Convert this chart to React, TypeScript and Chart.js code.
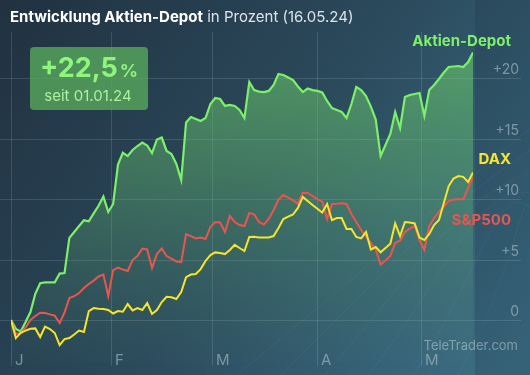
import React, { useEffect, useRef } from "react";
import { Chart, registerables } from "chart.js";

Chart.register(...registerables);

// Trading-day index 0..95 (02.01.24 – 16.05.24), performance in %
const depotValues = [
  0, -0.73, -0.94, -0.17, 0.66, 2.17, 3.04, 3.11, 3.11, 3.11,
  3.84, 3.88, 6.79, 7.28, 7.77, 8.24, 8.16, 8.81, 9.44, 10.2,
  8.93, 9.59, 12.85, 13.82, 13.55, 14.05, 14.38, 14.67, 14.42, 13.8,
  14.92, 15.08, 13.97, 13.72, 12.9, 11.57, 16.32, 16.78, 16.61, 16.45,
  16.69, 17.85, 18.35, 18.26, 17.69, 17.77, 17.69, 17.36, 16.69, 19.67,
  19.0, 18.88, 18.84, 18.93, 19.42, 20.33, 20.25, 20.04, 19.83, 19.3,
  18.84, 19.13, 19.0, 18.93, 18.8, 18.1, 17.52, 17.36, 17.19, 16.69,
  17.85, 19.26, 19.0, 18.51, 17.64, 16.57, 13.55, 14.46, 15.37, 17.19,
  15.87, 18.43, 18.6, 18.68, 18.76, 16.86, 19.0, 19.42, 19.92, 20.45,
  20.91, 20.95, 20.99, 20.91, 21.32, 22.1,
];
const sp500Values = [
  0, -1.16, -1.07, -0.62, 0, 0.33, 0.6, 0.58, 0.47, 0.36,
  -0.25, 0.62, 1.82, 1.98, 2.23, 2.64, 2.98, 3.26, 3.6, 3.76,
  1.98, 4.13, 4.34, 4.17, 4.05, 4.96, 5.29, 5.9, 5.83, 4.3,
  5.45, 5.91, 5.29, 5.08, 4.83, 4.79, 7.1, 6.94, 6.74, 6.82,
  6.69, 7.69, 8.1, 8.06, 7.27, 8.6, 8.1, 7.85, 7.77, 8.84,
  8.74, 8.1, 7.89, 8.35, 9.09, 9.96, 10.33, 10.12, 9.88, 9.61,
  10.52, 10.5, 10.25, 10.0, 9.78, 8.35, 9.59, 9.6, 9.64, 9.59,
  8.76, 8.1, 7.44, 6.89, 6.36, 5.83, 4.59, 4.92, 5.29, 6.36,
  6.57, 7.27, 7.56, 7.77, 6.61, 5.79, 7.77, 8.43, 8.93, 9.38,
  9.83, 9.96, 9.98, 9.98, 10.9, 11.82,
];
const daxValues = [
  0, -1.49, -1.05, -0.87, -0.72, -0.69, -1.4, -0.55, -0.74, -1.07,
  -2.07, -1.57, -1.49, -1.2, -0.87, -0.99, 0.74, 0.99, 0.94, 0.91,
  0.83, 0.54, 0.74, 0.69, 1.32, 0.79, 0.99, 0.83, 1.4, 0.5,
  0.83, 1.49, 1.92, 1.88, 1.74, 2.31, 3.55, 3.76, 3.8, 4.21,
  4.88, 5.37, 5.59, 5.54, 5.45, 5.79, 6.21, 5.95, 5.7, 6.86,
  6.88, 6.83, 6.82, 6.82, 6.94, 7.6, 8.35, 8.54, 8.72, 9.26,
  10.17, 9.83, 9.5, 9.19, 8.88, 9.59, 8.26, 8.43, 8.43, 7.52,
  7.52, 6.86, 6.74, 7.27, 5.83, 6.03, 5.6, 5.95, 6.31, 7.98,
  6.94, 8.1, 8.06, 7.98, 6.82, 6.61, 7.11, 7.85, 8.26, 9.67,
  11.07, 11.69, 11.9, 11.83, 11.4, 12.19,
];

const monthTickPositions = [0, 20.56, 41.33, 62.9, 84.3];
const monthLabels = ["J", "F", "M", "A", "M"];
const yTickValues = [0, 5, 10, 15, 20];
const yTickLabels = ["0", "+5", "+10", "+15", "+20"];

const FONT = "Inter, 'Open Sans', sans-serif";

function roundRect(ctx: CanvasRenderingContext2D, x: number, y: number, w: number, h: number, r: number) {
  ctx.beginPath();
  ctx.moveTo(x + r, y);
  ctx.lineTo(x + w - r, y);
  ctx.quadraticCurveTo(x + w, y, x + w, y + r);
  ctx.lineTo(x + w, y + h - r);
  ctx.quadraticCurveTo(x + w, y + h, x + w - r, y + h);
  ctx.lineTo(x + r, y + h);
  ctx.quadraticCurveTo(x, y + h, x, y + h - r);
  ctx.lineTo(x, y + r);
  ctx.quadraticCurveTo(x, y, x + r, y);
  ctx.closePath();
}

const backgroundPlugin = {
  id: "bgDecor",
  beforeDraw(chart: any) {
    const { ctx, width, height, scales } = chart;
    const xs = scales.x;
    const ys = scales.y;
    ctx.save();
    const g = ctx.createLinearGradient(0, 0, width, height);
    g.addColorStop(0, "#213140");
    g.addColorStop(0.5, "#2b4a5c");
    g.addColorStop(1, "#3e7188");
    ctx.fillStyle = g;
    ctx.fillRect(0, 0, width, height);
    // faint decorative curves
    ctx.strokeStyle = "rgba(255,255,255,0.045)";
    ctx.lineWidth = 1;
    for (let k = 0; k < 6; k++) {
      ctx.beginPath();
      ctx.moveTo(230 + k * 45, height + 5);
      ctx.bezierCurveTo(330 + k * 40, 300 - k * 10, 420 + k * 20, 220 - k * 15, 540, 120 + k * 25);
      ctx.stroke();
    }
    // right strip
    ctx.fillStyle = "rgba(20,40,55,0.18)";
    ctx.fillRect(chart.chartArea.right + 2, 0, width - chart.chartArea.right - 2, height);
    // grid
    ctx.strokeStyle = "rgba(200,220,230,0.16)";
    ctx.lineWidth = 1;
    yTickValues.forEach((v) => {
      const py = Math.round(ys.getPixelForValue(v)) + 0.5;
      ctx.beginPath();
      ctx.moveTo(0, py);
      ctx.lineTo(521, py);
      ctx.stroke();
    });
    monthTickPositions.forEach((v) => {
      const px = Math.round(xs.getPixelForValue(v)) + 0.5;
      ctx.beginPath();
      ctx.moveTo(px, 32);
      ctx.lineTo(px, 366);
      ctx.stroke();
    });
    // tick labels
    ctx.fillStyle = "rgba(160,180,192,0.7)";
    ctx.font = `14px ${FONT}`;
    ctx.textAlign = "right";
    ctx.textBaseline = "alphabetic";
    yTickValues.forEach((v, i) => {
      const py = ys.getPixelForValue(v);
      ctx.fillText(yTickLabels[i], 519, py - 4);
    });
    ctx.textAlign = "left";
    ctx.font = `15px ${FONT}`;
    monthTickPositions.forEach((v, i) => {
      const px = xs.getPixelForValue(v);
      ctx.fillText(monthLabels[i], px + 4, 365);
    });
    ctx.restore();
  },
  afterDatasetsDraw(chart: any) {
    const { ctx } = chart;
    ctx.save();
    // title
    ctx.textBaseline = "alphabetic";
    ctx.textAlign = "left";
    ctx.fillStyle = "#ffffff";
    ctx.font = `bold 15px ${FONT}`;
    const t1 = "Entwicklung Aktien-Depot";
    ctx.fillText(t1, 10, 22);
    const w1 = ctx.measureText(t1).width;
    ctx.fillStyle = "rgba(235,240,245,0.92)";
    ctx.font = `15px ${FONT}`;
    ctx.fillText(" in Prozent (16.05.24)", 10 + w1, 22);
    // badge
    roundRect(ctx, 30, 47, 118, 63, 4);
    ctx.fillStyle = "rgba(88,170,92,0.78)";
    ctx.fill();
    ctx.fillStyle = "#8ef57d";
    ctx.font = `bold 27px ${FONT}`;
    const big = "+22,5";
    const bw = ctx.measureText(big).width;
    ctx.font = `bold 18px ${FONT}`;
    const pw = ctx.measureText("%").width;
    const sx = 89 - (bw + pw + 2) / 2;
    ctx.font = `bold 27px ${FONT}`;
    ctx.fillText(big, sx, 77);
    ctx.font = `bold 18px ${FONT}`;
    ctx.fillText("%", sx + bw + 2, 77);
    ctx.fillStyle = "#aef0a0";
    ctx.font = `15px ${FONT}`;
    ctx.textAlign = "center";
    ctx.fillText("seit 01.01.24", 88, 101);
    // series labels
    ctx.textAlign = "right";
    ctx.font = `bold 15px ${FONT}`;
    ctx.fillStyle = "#7df06a";
    ctx.fillText("Aktien-Depot", 511, 46);
    ctx.fillStyle = "#f6e52c";
    ctx.fillText("DAX", 511, 164);
    ctx.fillStyle = "#ea5550";
    ctx.fillText("S&P500", 511, 225);
    // watermark
    ctx.font = `13px ${FONT}`;
    ctx.fillStyle = "rgba(200,215,222,0.5)";
    ctx.fillText("TeleTrader.com", 518, 350);
    ctx.restore();
  },
};

export default function App() {
  const ref = useRef<HTMLCanvasElement | null>(null);
  useEffect(() => {
    if (!ref.current) return;
    const toPts = (arr: number[]) => arr.map((y, i) => ({ x: i, y }));
    const chart = new Chart(ref.current, {
      type: "line",
      data: {
        datasets: [
          {
            label: "DAX",
            data: toPts(daxValues),
            borderColor: "#f6e52c",
            borderWidth: 2,
            pointRadius: 0,
            tension: 0,
            fill: false,
          },
          {
            label: "S&P500",
            data: toPts(sp500Values),
            borderColor: "#ea5550",
            borderWidth: 2,
            pointRadius: 0,
            tension: 0,
            fill: false,
          },
          {
            label: "Aktien-Depot",
            data: toPts(depotValues),
            borderColor: "#7df06a",
            borderWidth: 2.2,
            pointRadius: 0,
            tension: 0,
            fill: "start",
            backgroundColor: (c: any) => {
              const area = c.chart.chartArea;
              if (!area) return "rgba(100,200,100,0.3)";
              const g = c.chart.ctx.createLinearGradient(0, area.top, 0, area.bottom);
              g.addColorStop(0, "rgba(110,210,105,0.62)");
              g.addColorStop(0.45, "rgba(100,190,110,0.38)");
              g.addColorStop(1, "rgba(90,160,120,0.02)");
              return g;
            },
          },
        ],
      },
      options: {
        responsive: false,
        animation: false,
        devicePixelRatio: 1,
        layout: { padding: { left: 11, right: 57, top: 32, bottom: 12 } },
        plugins: { legend: { display: false }, tooltip: { enabled: false } },
        scales: {
          x: { type: "linear", min: 0, max: 95, display: false },
          y: { type: "linear", min: -3.55, max: 23.8, display: false },
        },
      },
      plugins: [backgroundPlugin],
    });
    return () => chart.destroy();
  }, []);
  return (
    <div style={{ position: "fixed", left: 0, top: 0, width: 530, height: 375 }}>
      <canvas ref={ref} width={530} height={375} style={{ display: "block", width: 530, height: 375 }} />
    </div>
  );
}
